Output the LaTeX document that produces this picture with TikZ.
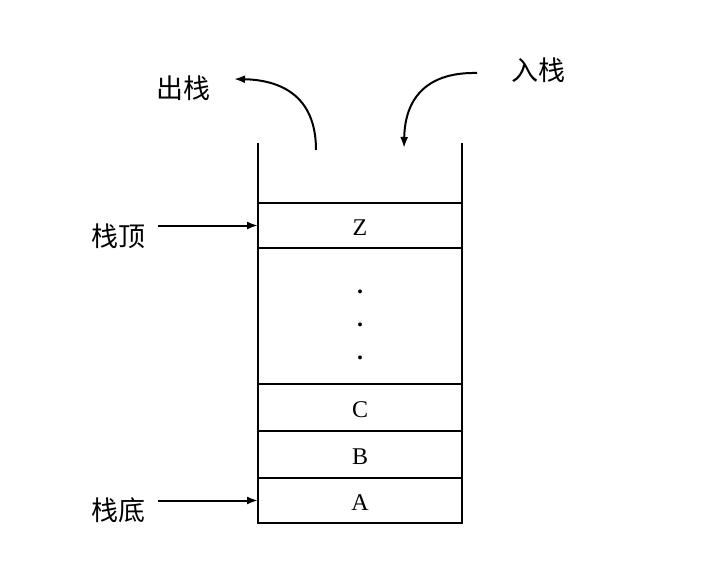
\documentclass[tikz,border=0pt]{standalone}
\usepackage{fontspec}
\newfontfamily\cjk{Noto Sans CJK SC}
\newfontfamily\letterfont{Liberation Serif}
\usetikzlibrary{positioning,arrows.meta}
\newcommand{\celltext}[1]{\raisebox{-3pt}[\ht\strutbox][\dp\strutbox]{#1}}
\tikzset{
  cellbox/.style={rectangle, draw, line width=1.2pt, minimum width=204pt,
    outer sep=0pt, inner sep=0pt, align=center, font=\letterfont\fontsize{24}{33}\selectfont},
  labeltext/.style={font=\cjk\fontsize{27}{30}\selectfont, inner sep=4pt},
  arrowstyle/.style={-{Latex[length=11pt,width=8pt]}, line width=2pt}
}

\begin{document}
\begin{tikzpicture}[x=1pt,y=-1pt]
  \useasboundingbox (0,0) rectangle (703,585);
  % the stack, bottom to top
  \node[cellbox, minimum height=45pt] (a) at (360,500.5) {\celltext{A}};
  \node[cellbox, minimum height=47pt, above=0pt of a] (b) {\celltext{B}};
  \node[cellbox, minimum height=47pt, above=0pt of b] (c) {\celltext{C}};
  \node[cellbox, minimum height=136pt, above=0pt of c] (dots) {};
  \node[cellbox, minimum height=45pt, above=0pt of dots] (z) {\celltext{Z}};
  \path (dots.center) ++(0,9) node[font=\letterfont\bfseries\fontsize{24}{33}\selectfont, align=center] (ellipsis) {.\\.\\.};
  \draw[line width=1.2pt] (z.north west) -- ++(0,-60);
  \draw[line width=1.2pt] (z.north east) -- ++(0,-60);
  % labels
  \node[labeltext] (top) at (118,236) {栈顶};
  \node[labeltext] (bottom) at (118,510) {栈底};
  \node[labeltext] (pop) at (183,88) {出栈};
  \node[labeltext] (push) at (538,70) {入栈};
  \draw[arrowstyle, shorten <=9pt] (z.west -| top.east) -- (z.west);
  \draw[arrowstyle, shorten <=9pt] (a.west -| bottom.east) -- (a.west);
  % in and out
  \coordinate (popfrom) at (316,150);
  \coordinate (popto) at (234,79);
  \coordinate (pushfrom) at (477,73);
  \coordinate (pushto) at (404,148);
  \draw[arrowstyle] (popfrom) .. controls (316,95) and (280,80) .. (popto);
  \draw[arrowstyle] (pushfrom) .. controls (430,72) and (405,95) .. (pushto);
\end{tikzpicture}
\end{document}
